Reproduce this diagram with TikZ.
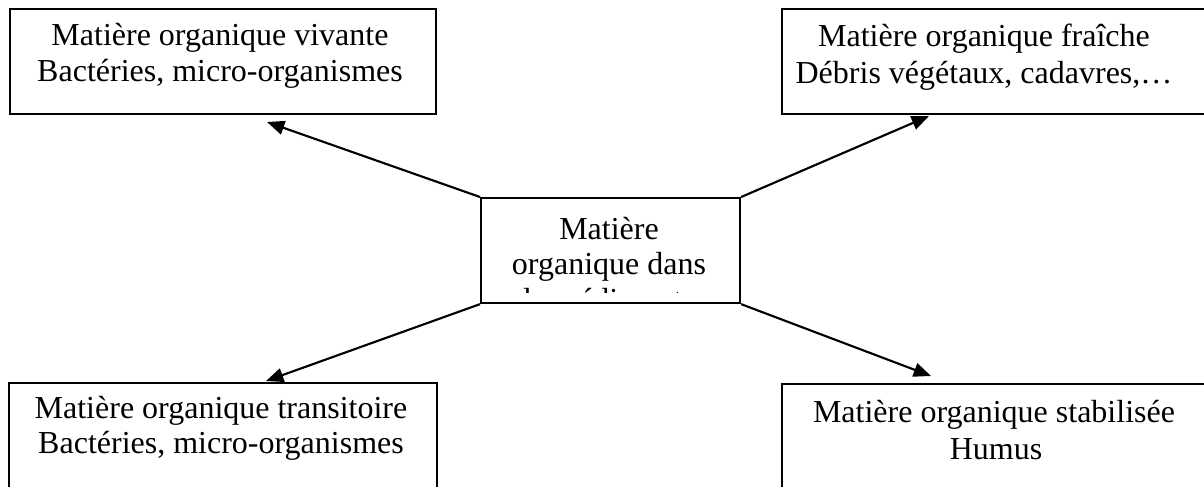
\documentclass[tikz,border=0pt]{standalone}
\usepackage{fontspec}
\setmainfont{Liberation Serif}
\usetikzlibrary{arrows.meta}
\begin{document}
\begin{tikzpicture}[x=0.75pt,y=-0.75pt,
  box/.style={draw=black,line width=1.6pt,rectangle,inner sep=0pt,anchor=north west},
  txt/.style={font=\fontsize{24}{28}\selectfont,inner sep=0pt,anchor=base},
  arr/.style={line width=1.6pt,-{Triangle[length=13pt,width=10.5pt]}}]
\useasboundingbox (0,0) rectangle (1204,486);
\clip (0,0) rectangle (1204,486);
% boxes
\node[box,minimum width=426*0.75pt,minimum height=105*0.75pt] (tl) at (9,8) {};
\node[box,minimum width=460*0.75pt,minimum height=105*0.75pt] (tr) at (781,8) {};
\node[box,minimum width=428*0.75pt,minimum height=140*0.75pt] (bl) at (8,382) {};
\node[box,minimum width=460*0.75pt,minimum height=140*0.75pt] (br) at (781,383) {};
\node[box,minimum width=259*0.75pt,minimum height=105*0.75pt] (c) at (480,197) {};
% texts
\node[txt] (tl1) at (220,45) {Matière organique vivante};
\node[txt] (tl2) at (220,81) {Bactéries, micro-organismes};
\node[txt] (tr1) at (984,46) {Matière organique fraîche};
\node[txt] (tr2) at (984,83) {Débris végétaux, cadavres,…};
\node[txt] (bl1) at (221,418) {Matière organique transitoire};
\node[txt] (bl2) at (221,453) {Bactéries, micro-organismes};
\node[txt] (br1) at (994,422) {Matière organique stabilisée};
\node[txt] (br2) at (996,459) {Humus};
\node[txt] (c1) at (609,239) {Matière};
\node[txt] (c2) at (609,274) {organique dans};
\begin{scope}
\clip (482,280) rectangle (737,292);
\node[txt] (c3) at (609,310) {les sédiments};
\end{scope}
% arrow ends
\coordinate (etl) at (267,122);
\coordinate (etr) at (929,116);
\coordinate (ebl) at (266,381);
\coordinate (ebr) at (931,376);
\draw[arr] (c.north west) -- (etl);
\draw[arr] (c.north east) -- (etr);
\draw[arr] (c.south west) -- (ebl);
\draw[arr] (c.south east) -- (ebr);
\end{tikzpicture}
\end{document}
